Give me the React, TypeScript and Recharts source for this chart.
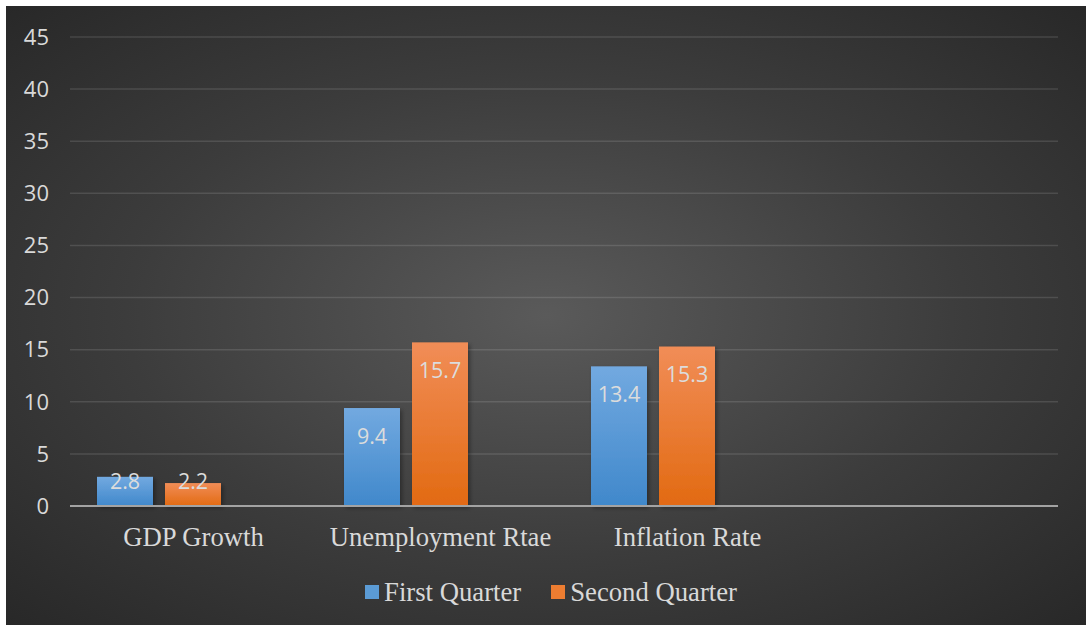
import React from "react";
import { BarChart, Bar, XAxis, YAxis, CartesianGrid, Legend, LabelList } from "recharts";

const categories = ["GDP Growth", "Unemployment Rtae", "Inflation Rate", ""];
const firstQuarter = [2.8, 9.4, 13.4, null];
const secondQuarter = [2.2, 15.7, 15.3, null];
// third series is empty in the source chart but still takes a slot in each category
const thirdSeries = [null, null, null, null];
const yTicks = [0, 5, 10, 15, 20, 25, 30, 35, 40, 45];

const data = categories.map((name, i) => ({
  name,
  first: firstQuarter[i],
  second: secondQuarter[i],
  third: thirdSeries[i],
}));

const W = 1080;
const H = 619;
const serif = "'Liberation Serif', 'Times New Roman', serif";

const barShape = (gradId: string) => (p: any) => {
  if (p.height == null || p.height <= 0) return <g />;
  return (
    <rect
      x={p.x}
      y={p.y}
      width={p.width}
      height={p.height}
      fill={`url(#${gradId})`}
      filter="url(#barShadow)"
    />
  );
};

const renderLabel = (p: any) => {
  const { x, y, width, height, value } = p;
  if (value == null) return null;
  const cy = Math.min(y + 28, y + height - 25);
  return (
    <text
      x={x + width / 2}
      y={cy}
      dy="0.35em"
      textAnchor="middle"
      fill="#dcdcdc"
      fontSize={21.5}
      fontFamily="'Open Sans', sans-serif"
    >
      {value}
    </text>
  );
};

const legendItems = [
  { label: "First Quarter", color: "#5b9bd5" },
  { label: "Second Quarter", color: "#ed7d31" },
];

const renderLegend = () => (
  <div
    style={{
      display: "flex",
      justifyContent: "center",
      alignItems: "center",
      gap: 30,
      paddingLeft: 10,
      fontFamily: serif,
      fontSize: 26.7,
      color: "#d9d9d9",
    }}
  >
    {legendItems.map((it) => (
      <div key={it.label} style={{ display: "flex", alignItems: "center", gap: 5 }}>
        <span style={{ display: "inline-block", width: 14, height: 14, background: it.color }} />
        <span style={{ lineHeight: "30px" }}>{it.label}</span>
      </div>
    ))}
  </div>
);

export default function App() {
  return (
    <div
      style={{
        position: "absolute",
        left: 6,
        top: 6,
        width: W,
        height: H,
        background: "radial-gradient(ellipse at 50% 50%, #5a5a5a 0%, #3c3c3c 55%, #282828 100%)",
      }}
    >
      <BarChart
        width={W}
        height={H}
        data={data}
        margin={{ top: 31, right: 28, left: 14, bottom: 0 }}
        barGap={12}
        barCategoryGap={27}
      >
        <defs>
          <linearGradient id="gradBlue" x1="0" y1="0" x2="0" y2="1">
            <stop offset="0%" stopColor="#72a9e0" />
            <stop offset="100%" stopColor="#4088cb" />
          </linearGradient>
          <linearGradient id="gradOrange" x1="0" y1="0" x2="0" y2="1">
            <stop offset="0%" stopColor="#f18d57" />
            <stop offset="100%" stopColor="#e26a12" />
          </linearGradient>
          <filter id="barShadow" x="-20%" y="-20%" width="140%" height="140%">
            <feDropShadow dx="2" dy="2" stdDeviation="2" floodColor="#000" floodOpacity="0.35" />
          </filter>
        </defs>
        <CartesianGrid vertical={false} stroke="#ffffff" strokeOpacity={0.12} strokeWidth={1.5} />
        <XAxis
          dataKey="name"
          height={119}
          tickLine={false}
          tickSize={0}
          tickMargin={21}
          axisLine={{ stroke: "#a3a3a3", strokeWidth: 2 }}
          tick={{ fill: "#d9d9d9", fontSize: 26.7, fontFamily: serif }}
          interval={0}
        />
        <YAxis
          width={50}
          domain={[0, 45]}
          ticks={yTicks}
          axisLine={false}
          tickLine={false}
          tickSize={0}
          tickMargin={21}
          tick={{ fill: "#d9d9d9", fontSize: 22, fontFamily: "'Open Sans', sans-serif" }}
        />
        <Legend
          layout="horizontal"
          verticalAlign="middle"
          align="center"
          wrapperStyle={{ top: 571, left: 0, width: W }}
          content={renderLegend}
        />
        <Bar dataKey="first" name="First Quarter" isAnimationActive={false} shape={barShape("gradBlue")}>
          <LabelList dataKey="first" content={renderLabel} />
        </Bar>
        <Bar dataKey="second" name="Second Quarter" isAnimationActive={false} shape={barShape("gradOrange")}>
          <LabelList dataKey="second" content={renderLabel} />
        </Bar>
        <Bar dataKey="third" legendType="none" isAnimationActive={false} fill="#a5a5a5" />
      </BarChart>
    </div>
  );
}
